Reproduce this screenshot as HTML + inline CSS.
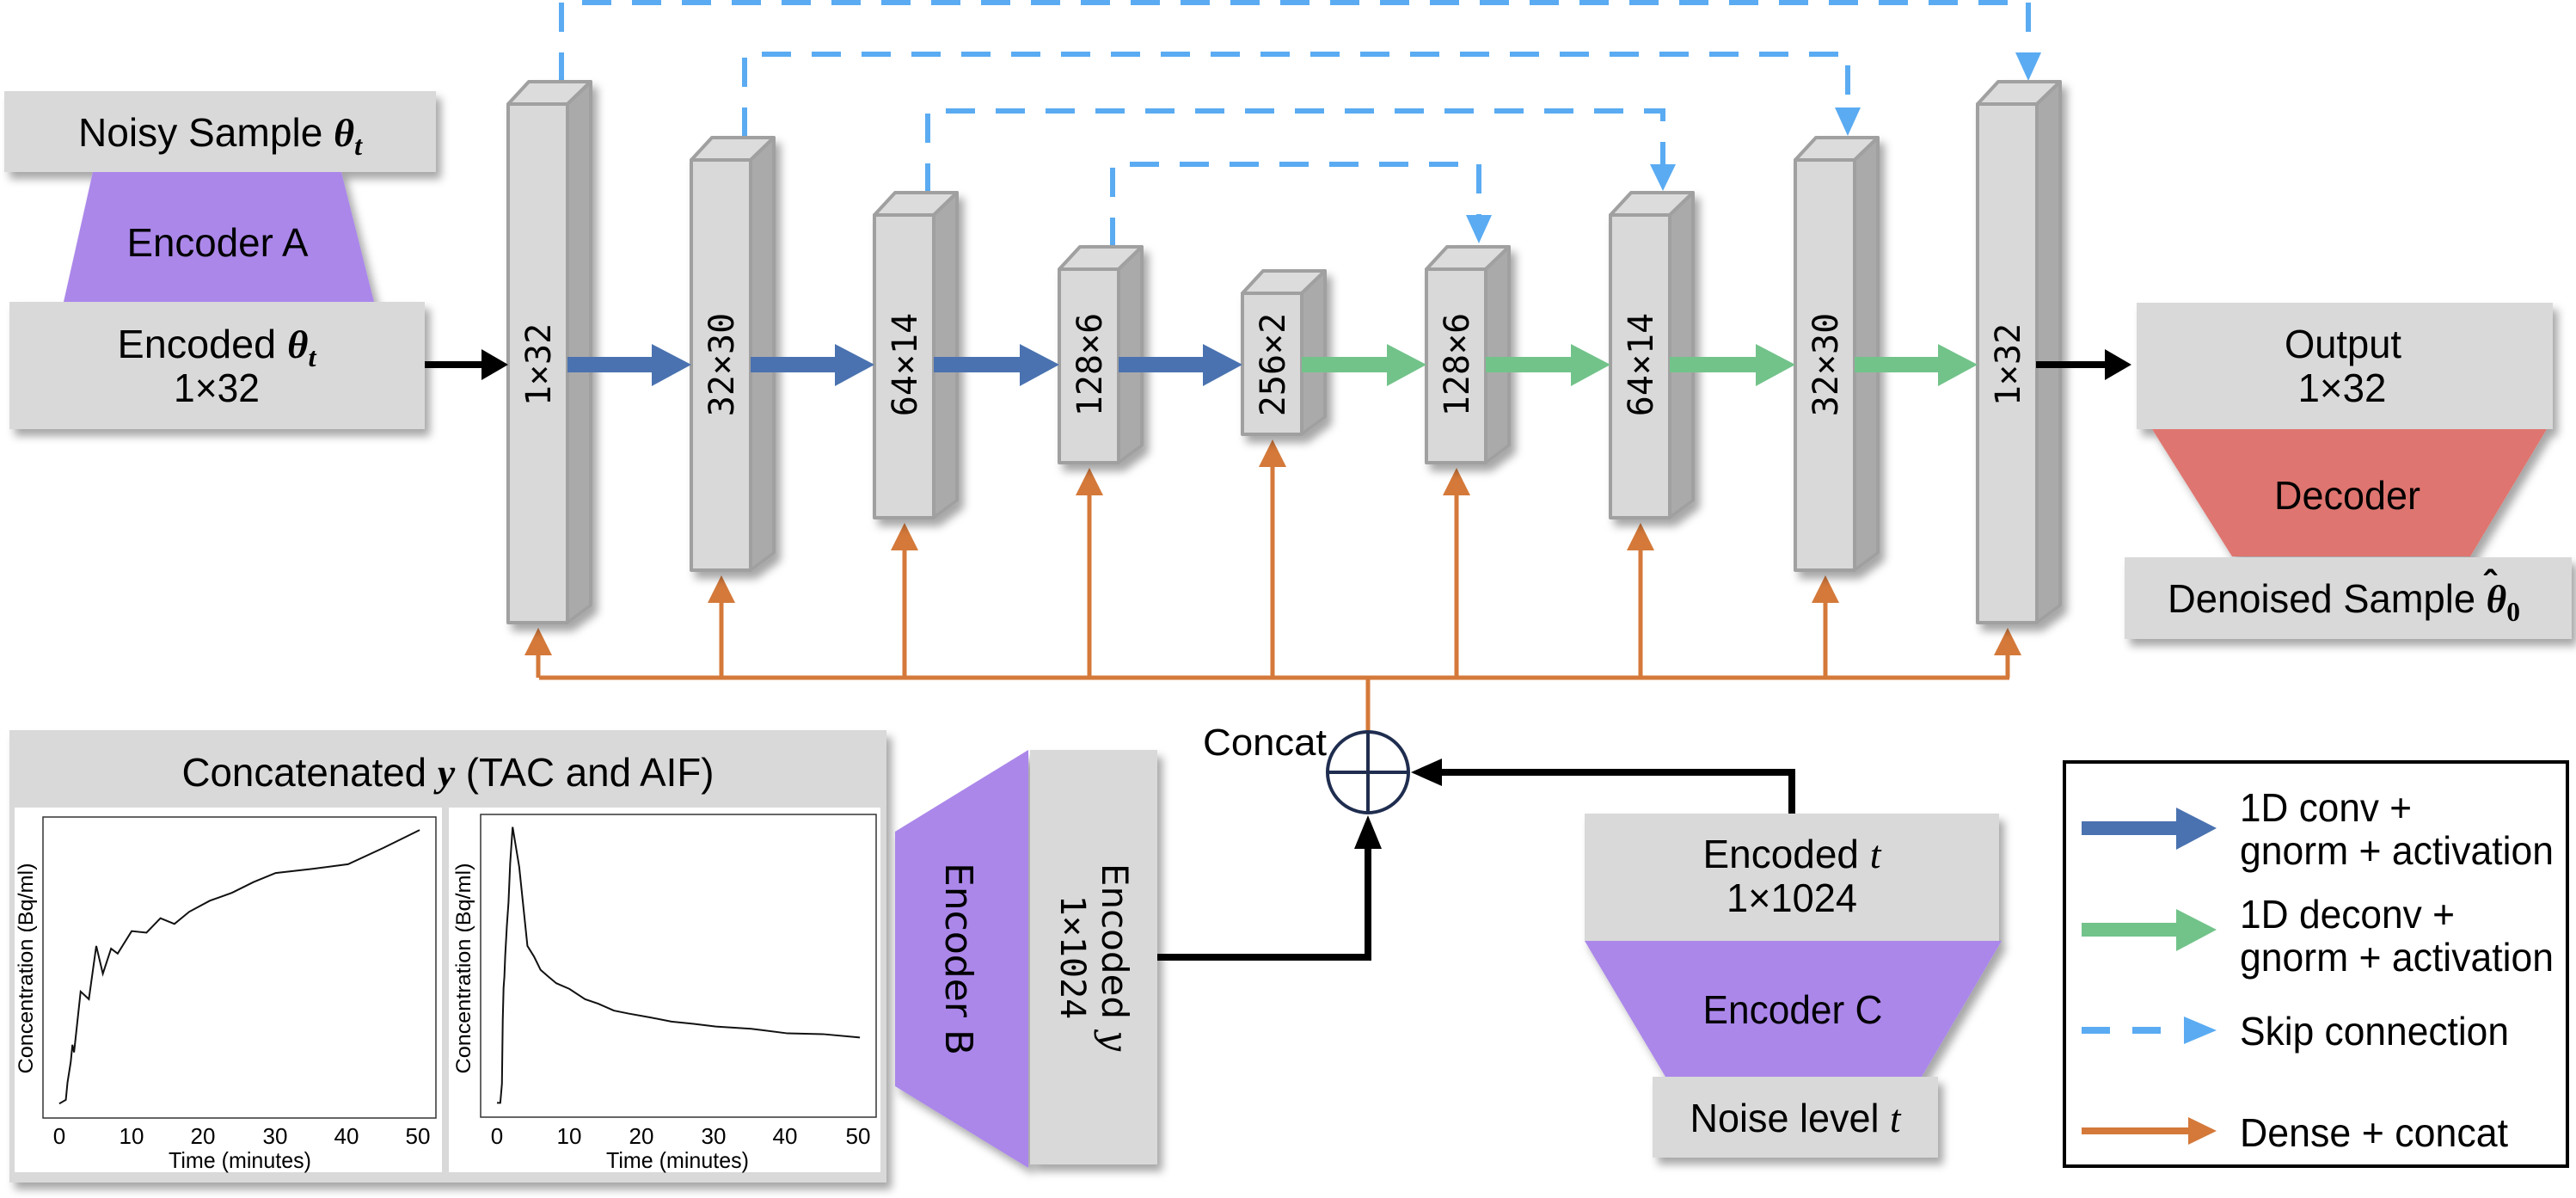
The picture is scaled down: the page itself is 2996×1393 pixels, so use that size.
<!DOCTYPE html>
<html><head><meta charset="utf-8"><style>
html,body{margin:0;padding:0;background:#fff;}
svg{display:block;}
text{font-family:"Liberation Sans",sans-serif;fill:#000;}
.m{font-family:"DejaVu Sans Mono","Liberation Mono",monospace;font-size:40px;}
.d{font-family:"DejaVu Sans","Liberation Sans",sans-serif;}
</style></head><body>
<svg width="2996" height="1393" viewBox="0 0 2996 1393" xmlns="http://www.w3.org/2000/svg">
<defs>
<filter id="sh" x="-10%" y="-10%" width="130%" height="130%"><feDropShadow dx="6" dy="8" stdDeviation="5" flood-color="#000" flood-opacity="0.35"/></filter>
</defs>

<!-- skip connections -->
<g fill="none" stroke="#5aabf2" stroke-width="6" stroke-dasharray="34,24">
<path d="M653,95 V3 H2359 V62"/>
<path d="M866,159 V63 H2149 V126"/>
<path d="M1079,224 V129 H1934 V192"/>
<path d="M1294,287 V191 H1720 V251"/>
</g>
<g fill="#5aabf2">
<polygon points="2344,61 2374,61 2359,94"/>
<polygon points="2134,125 2164,125 2149,158"/>
<polygon points="1919,191 1949,191 1934,222"/>
<polygon points="1705,250 1735,250 1720,283"/>
</g>

<!-- left boxes -->
<g filter="url(#sh)">
<rect x="5" y="106" width="502" height="94" fill="#d9d9d9"/>
<polygon points="108,200 397,200 435,351 74,351" fill="#ab87ea"/>
<rect x="11" y="351" width="483" height="148" fill="#d9d9d9"/>
<rect x="2485" y="352" width="484" height="147" fill="#d9d9d9"/>
<polygon points="2503,499 2962,499 2873,647 2596,647" fill="#df7570"/>
<rect x="2471" y="648" width="520" height="95" fill="#d9d9d9"/>
</g>
<text x="256" y="170" text-anchor="middle" font-size="46" textLength="330" lengthAdjust="spacingAndGlyphs">Noisy Sample <tspan font-family="Liberation Serif" font-weight="bold" font-style="italic">θ</tspan><tspan font-family="Liberation Serif" font-weight="bold" font-style="italic" font-size="32" dy="10">t</tspan></text>
<text x="253" y="298" text-anchor="middle" font-size="46" textLength="211" lengthAdjust="spacingAndGlyphs">Encoder A</text>
<text x="252" y="416" text-anchor="middle" font-size="46" textLength="231" lengthAdjust="spacingAndGlyphs">Encoded <tspan font-family="Liberation Serif" font-weight="bold" font-style="italic">θ</tspan><tspan font-family="Liberation Serif" font-weight="bold" font-style="italic" font-size="32" dy="10">t</tspan></text>
<text x="252" y="467" text-anchor="middle" font-size="46" textLength="100" lengthAdjust="spacingAndGlyphs">1×32</text>
<text x="2725" y="416" text-anchor="middle" font-size="46" textLength="136" lengthAdjust="spacingAndGlyphs">Output</text>
<text x="2724" y="467" text-anchor="middle" font-size="46" textLength="103" lengthAdjust="spacingAndGlyphs">1×32</text>
<text x="2730" y="592" text-anchor="middle" font-size="46" textLength="170" lengthAdjust="spacingAndGlyphs">Decoder</text>
<text x="2726" y="712" text-anchor="middle" font-size="46" textLength="410" lengthAdjust="spacingAndGlyphs">Denoised Sample <tspan font-family="Liberation Serif" font-weight="bold" font-style="italic">θ</tspan><tspan font-family="Liberation Serif" font-weight="bold" font-size="32" dy="10">0</tspan></text>
<text x="2896" y="694" text-anchor="middle" font-size="44" font-family="Liberation Serif" font-weight="bold">ˆ</text>

<!-- orange dense -->
<g stroke="#d4793a" stroke-width="5" fill="none">
<path d="M627,788 H2337"/>
<path d="M626,788 V760 M839,788 V699 M1052,788 V638 M1267,788 V574 M1480,788 V541 M1694,788 V574 M1908,788 V638 M2123,788 V699 M2335,788 V760"/>
<path d="M1591,788 V850"/>
</g>
<g fill="#d4793a">
<polygon points="610,762 642,762 626,730"/>
<polygon points="823,701 855,701 839,669"/>
<polygon points="1036,640 1068,640 1052,608"/>
<polygon points="1251,576 1283,576 1267,544"/>
<polygon points="1464,543 1496,543 1480,511"/>
<polygon points="1678,576 1710,576 1694,544"/>
<polygon points="1892,640 1924,640 1908,608"/>
<polygon points="2107,701 2139,701 2123,669"/>
<polygon points="2319,762 2351,762 2335,730"/>
</g>

<!-- blocks -->
<g stroke="#a0a0a0" stroke-width="4" stroke-linejoin="round" filter="url(#sh)">
<g transform="translate(591,0)"><polygon points="0,121 24,95 96,95 69,121" fill="#dcdcdc"/><polygon points="69,121 96,95 96,704 69,724" fill="#aaaaaa"/><rect x="0" y="121" width="69" height="603" fill="#d9d9d9"/></g>
<g transform="translate(804,0)"><polygon points="0,186 24,160 96,160 69,186" fill="#dcdcdc"/><polygon points="69,186 96,160 96,643 69,663" fill="#aaaaaa"/><rect x="0" y="186" width="69" height="477" fill="#d9d9d9"/></g>
<g transform="translate(1017,0)"><polygon points="0,250 24,224 96,224 69,250" fill="#dcdcdc"/><polygon points="69,250 96,224 96,582 69,602" fill="#aaaaaa"/><rect x="0" y="250" width="69" height="352" fill="#d9d9d9"/></g>
<g transform="translate(1232,0)"><polygon points="0,313 24,287 96,287 69,313" fill="#dcdcdc"/><polygon points="69,313 96,287 96,518 69,538" fill="#aaaaaa"/><rect x="0" y="313" width="69" height="225" fill="#d9d9d9"/></g>
<g transform="translate(1445,0)"><polygon points="0,341 24,315 96,315 69,341" fill="#dcdcdc"/><polygon points="69,341 96,315 96,485 69,505" fill="#aaaaaa"/><rect x="0" y="341" width="69" height="164" fill="#d9d9d9"/></g>
<g transform="translate(1659,0)"><polygon points="0,313 24,287 96,287 69,313" fill="#dcdcdc"/><polygon points="69,313 96,287 96,518 69,538" fill="#aaaaaa"/><rect x="0" y="313" width="69" height="225" fill="#d9d9d9"/></g>
<g transform="translate(1873,0)"><polygon points="0,250 24,224 96,224 69,250" fill="#dcdcdc"/><polygon points="69,250 96,224 96,582 69,602" fill="#aaaaaa"/><rect x="0" y="250" width="69" height="352" fill="#d9d9d9"/></g>
<g transform="translate(2088,0)"><polygon points="0,186 24,160 96,160 69,186" fill="#dcdcdc"/><polygon points="69,186 96,160 96,643 69,663" fill="#aaaaaa"/><rect x="0" y="186" width="69" height="477" fill="#d9d9d9"/></g>
<g transform="translate(2300,0)"><polygon points="0,121 24,95 96,95 69,121" fill="#dcdcdc"/><polygon points="69,121 96,95 96,704 69,724" fill="#aaaaaa"/><rect x="0" y="121" width="69" height="603" fill="#d9d9d9"/></g>
</g>
<g class="m" text-anchor="middle">
<text class="m" transform="translate(640,424) rotate(-90)">1×32</text>
<text class="m" transform="translate(853,424) rotate(-90)">32×30</text>
<text class="m" transform="translate(1066,424) rotate(-90)">64×14</text>
<text class="m" transform="translate(1281,424) rotate(-90)">128×6</text>
<text class="m" transform="translate(1494,424) rotate(-90)">256×2</text>
<text class="m" transform="translate(1708,424) rotate(-90)">128×6</text>
<text class="m" transform="translate(1922,424) rotate(-90)">64×14</text>
<text class="m" transform="translate(2137,424) rotate(-90)">32×30</text>
<text class="m" transform="translate(2349,424) rotate(-90)">1×32</text>
</g>

<!-- conv arrows -->
<g fill="#4a72b0">
<polygon points="660,415 758,415 758,400 804,424 758,449 758,433 660,433"/>
<polygon points="873,415 971,415 971,400 1017,424 971,449 971,433 873,433"/>
<polygon points="1086,415 1186,415 1186,400 1232,424 1186,449 1186,433 1086,433"/>
<polygon points="1301,415 1399,415 1399,400 1445,424 1399,449 1399,433 1301,433"/>
</g>
<g fill="#72c38a">
<polygon points="1514,415 1613,415 1613,400 1659,424 1613,449 1613,433 1514,433"/>
<polygon points="1728,415 1827,415 1827,400 1873,424 1827,449 1827,433 1728,433"/>
<polygon points="1942,415 2042,415 2042,400 2088,424 2042,449 2042,433 1942,433"/>
<polygon points="2157,415 2254,415 2254,400 2300,424 2254,449 2254,433 2157,433"/>
</g>
<!-- black arrows in/out -->
<g fill="#000">
<polygon points="494,420 560,420 560,406 591,424 560,442 560,428 494,428"/>
<polygon points="2368,420 2448,420 2448,406 2479,424 2448,442 2448,428 2368,428"/>
</g>

<!-- concat panel -->
<g filter="url(#sh)">
<rect x="11" y="849" width="1020" height="526" fill="#d9d9d9"/>
<polygon points="1041,967 1196,872 1196,1358 1041,1263" fill="#ab87ea"/>
<rect x="1198" y="872" width="148" height="482" fill="#d9d9d9"/>
<rect x="1843" y="946" width="482" height="148" fill="#d9d9d9"/>
<polygon points="1843,1094 2328,1094 2235,1252 1937,1252" fill="#ab87ea"/>
<rect x="1922" y="1252" width="332" height="94" fill="#d9d9d9"/>
</g>
<text x="521" y="914" text-anchor="middle" font-size="46" textLength="619" lengthAdjust="spacingAndGlyphs">Concatenated <tspan font-family="Liberation Serif" font-weight="bold" font-style="italic">y</tspan> (TAC and AIF)</text>
<rect x="17" y="939" width="497" height="424" fill="#fff"/>
<rect x="522" y="939" width="502" height="424" fill="#fff"/>
<rect x="50" y="950" width="457" height="350" fill="none" stroke="#333" stroke-width="1.5"/>
<rect x="559" y="947" width="460" height="352" fill="none" stroke="#333" stroke-width="1.5"/>
<g transform="translate(0,700) scale(0.957,0.4419)" fill="none" stroke="#111" stroke-width="2">
<polyline vector-effect="non-scaling-stroke" points="72,1320 80,1310 82,1265 86,1210 88,1165 90,1185 98,1025 108,1045 117,905 125,978 135,912 143,925 160,866 178,870 195,832 212,847 230,815 255,786 282,765 308,737 335,713 380,702 423,690 466,647 510,600"/>
<polyline vector-effect="non-scaling-stroke" points="604,1318 608,1318 610,1268 611,1100 612,1015 613,985 614,930 616,852 618,790 620,688 623,592 631,697 641,905 649,933 657,968 666,985 676,1003 692,1018 711,1045 727,1057 746,1075 764,1083 790,1093 816,1104 843,1110 870,1117 913,1123 957,1135 1000,1137 1045,1146"/>
</g>
<g font-size="26" fill="#222" text-anchor="middle">
<text x="69" y="1330">0</text><text x="153" y="1330">10</text><text x="236" y="1330">20</text><text x="320" y="1330">30</text><text x="403" y="1330">40</text><text x="486" y="1330">50</text>
<text x="578" y="1330">0</text><text x="662" y="1330">10</text><text x="746" y="1330">20</text><text x="830" y="1330">30</text><text x="913" y="1330">40</text><text x="998" y="1330">50</text>
<text x="279" y="1358" textLength="166" lengthAdjust="spacingAndGlyphs">Time (minutes)</text>
<text x="788" y="1358" textLength="166" lengthAdjust="spacingAndGlyphs">Time (minutes)</text>
<text transform="translate(38,1126) rotate(-90)" font-size="24" fill="#444" textLength="245" lengthAdjust="spacingAndGlyphs">Concentration (Bq/ml)</text>
<text transform="translate(547,1126) rotate(-90)" font-size="24" fill="#444" textLength="245" lengthAdjust="spacingAndGlyphs">Concentration (Bq/ml)</text>
</g>
<text class="d" transform="translate(1100,1115) rotate(90)" text-anchor="middle" font-size="44">Encoder B</text>
<text class="d" transform="translate(1282,1113) rotate(90)" text-anchor="middle" font-size="42">Encoded <tspan font-style="italic" font-family="DejaVu Serif">y</tspan></text>
<text class="m" transform="translate(1234,1113) rotate(90)" text-anchor="middle" font-size="40">1×1024</text>

<!-- concat -->
<g fill="none" stroke="#000" stroke-width="8">
<path d="M1346,1113 H1591 V985"/>
<path d="M2084,946 V898 H1675"/>
</g>
<g fill="#000">
<polygon points="1575,987 1607,987 1591,948"/>
<polygon points="1677,882 1677,914 1641,898"/>
</g>
<circle cx="1591" cy="898" r="47" fill="#fff" stroke="#1f2d4f" stroke-width="4"/>
<path d="M1591,851 V945 M1544,898 H1638" stroke="#1f2d4f" stroke-width="4"/>
<text x="1399" y="878" font-size="44" textLength="144" lengthAdjust="spacingAndGlyphs">Concat</text>

<text x="2084" y="1009" text-anchor="middle" font-size="46" textLength="207" lengthAdjust="spacingAndGlyphs">Encoded <tspan font-family="Liberation Serif" font-style="italic">t</tspan></text>
<text x="2084" y="1060" text-anchor="middle" font-size="46" textLength="152" lengthAdjust="spacingAndGlyphs">1×1024</text>
<text x="2085" y="1190" text-anchor="middle" font-size="46" textLength="209" lengthAdjust="spacingAndGlyphs">Encoder C</text>
<text x="2088" y="1316" text-anchor="middle" font-size="46" textLength="245" lengthAdjust="spacingAndGlyphs">Noise level <tspan font-family="Liberation Serif" font-style="italic">t</tspan></text>

<!-- legend -->
<rect x="2401" y="886" width="585" height="470" fill="#fff" stroke="#000" stroke-width="4"/>
<polygon points="2421,955 2531,955 2531,939 2578,963 2531,988 2531,971 2421,971" fill="#4a72b0"/>
<polygon points="2421,1073 2531,1073 2531,1057 2578,1081 2531,1106 2531,1089 2421,1089" fill="#72c38a"/>
<g fill="#5aabf2"><rect x="2421" y="1194" width="33" height="8"/><rect x="2480" y="1194" width="33" height="8"/><polygon points="2540,1182 2578,1198 2540,1214"/></g>
<rect x="2421" y="1311" width="130" height="8" fill="#d4793a"/><polygon points="2545,1299 2578,1315 2545,1331" fill="#d4793a"/>
<g font-size="46">
<text x="2605" y="955" textLength="200" lengthAdjust="spacingAndGlyphs">1D conv +</text>
<text x="2605" y="1005" textLength="365" lengthAdjust="spacingAndGlyphs">gnorm + activation</text>
<text x="2605" y="1079" textLength="250" lengthAdjust="spacingAndGlyphs">1D deconv +</text>
<text x="2605" y="1129" textLength="365" lengthAdjust="spacingAndGlyphs">gnorm + activation</text>
<text x="2605" y="1215" textLength="313" lengthAdjust="spacingAndGlyphs">Skip connection</text>
<text x="2605" y="1333" textLength="312" lengthAdjust="spacingAndGlyphs">Dense + concat</text>
</g>
</svg>
</body></html>
